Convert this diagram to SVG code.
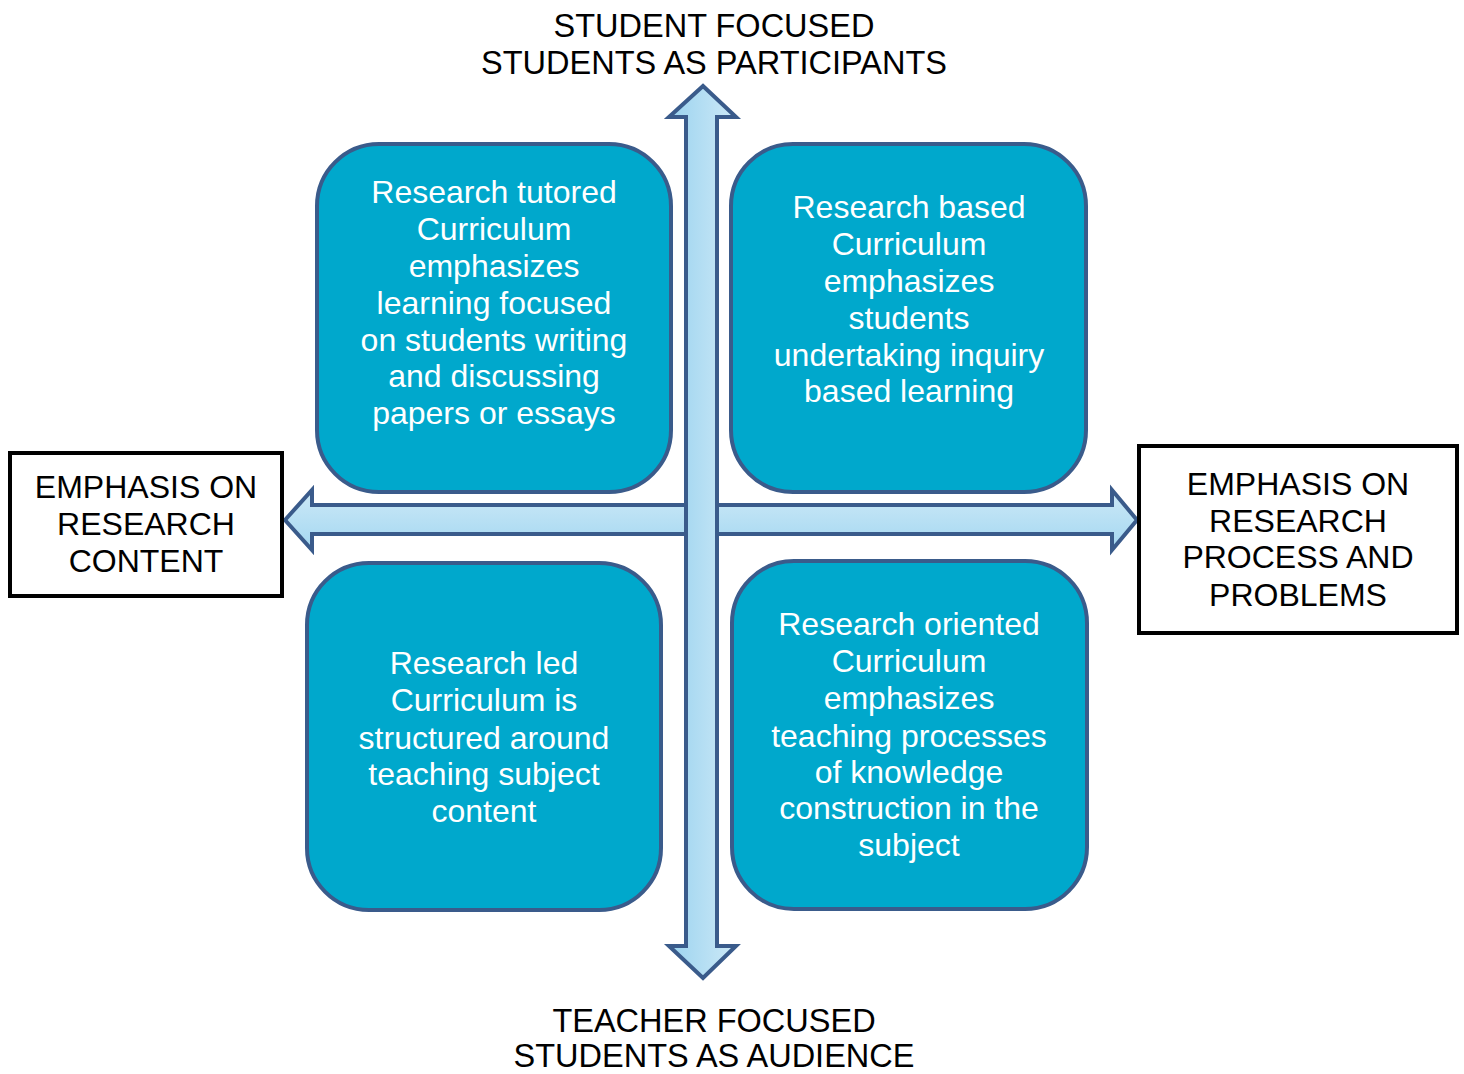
<svg xmlns="http://www.w3.org/2000/svg" width="1464" height="1074" viewBox="0 0 1464 1074">
<defs>
<style>
text{font-family:"Liberation Sans",Arial,sans-serif;font-size:32px;text-anchor:middle}
.axis{font-size:32.5px}
.dark{fill:#000}
.light{fill:#fff}
.quad{fill:#00a8cc;stroke:#3a5b8b;stroke-width:4}
.label{fill:#fff;stroke:#000;stroke-width:4}
.arrow{stroke:#3a5b8b;stroke-width:4;stroke-linejoin:miter}
</style>
<linearGradient id="gv" x1="0" y1="0" x2="1" y2="0">
<stop offset="0" stop-color="#9bd3ef"/><stop offset="1" stop-color="#cde9f7"/>
</linearGradient>
<linearGradient id="gh" x1="0" y1="0" x2="0" y2="1">
<stop offset="0" stop-color="#cde9f7"/><stop offset="1" stop-color="#a3d7f1"/>
</linearGradient>
</defs>
<g id="connectors">
<path id="h-arrow" class="arrow" fill="url(#gh)" d="M285,520 L312,490 L312,505 L1112,505 L1112,490 L1137,520 L1112,550 L1112,534 L312,534 L312,550 Z"/>
<path id="v-arrow" class="arrow" fill="url(#gv)" d="M703,86 L736,117 L717,117 L717,946 L736,946 L703,978 L669,946 L686,946 L686,117 L669,117 Z"/>
</g>
<g id="node-top">
<text class="dark axis" x="714" y="37">STUDENT FOCUSED</text>
<text class="dark axis" x="714" y="74">STUDENTS AS PARTICIPANTS</text>
</g>
<g id="node-bottom">
<text class="dark axis" x="714" y="1032">TEACHER FOCUSED</text>
<text class="dark axis" x="714" y="1067">STUDENTS AS AUDIENCE</text>
</g>
<g id="node-left">
<rect class="label" x="10" y="453" width="272" height="143"/>
<text class="dark" x="146" y="498">EMPHASIS ON</text>
<text class="dark" x="146" y="535">RESEARCH</text>
<text class="dark" x="146" y="572">CONTENT</text>
</g>
<g id="node-right">
<rect class="label" x="1139" y="446" width="318" height="187"/>
<text class="dark" x="1298" y="495">EMPHASIS ON</text>
<text class="dark" x="1298" y="532">RESEARCH</text>
<text class="dark" x="1298" y="568">PROCESS AND</text>
<text class="dark" x="1298" y="606">PROBLEMS</text>
</g>
<g id="node-tl">
<rect class="quad" x="317" y="144" width="354" height="348" rx="62"/>
<text class="light" x="494" y="203">Research tutored</text>
<text class="light" x="494" y="240">Curriculum</text>
<text class="light" x="494" y="277">emphasizes</text>
<text class="light" x="494" y="314">learning focused</text>
<text class="light" x="494" y="351">on students writing</text>
<text class="light" x="494" y="387">and discussing</text>
<text class="light" x="494" y="424">papers or essays</text>
</g>
<g id="node-tr">
<rect class="quad" x="731" y="144" width="355" height="348" rx="62"/>
<text class="light" x="909" y="218">Research based</text>
<text class="light" x="909" y="255">Curriculum</text>
<text class="light" x="909" y="292">emphasizes</text>
<text class="light" x="909" y="329">students</text>
<text class="light" x="909" y="366">undertaking inquiry</text>
<text class="light" x="909" y="402">based learning</text>
</g>
<g id="node-bl">
<rect class="quad" x="307" y="563" width="354" height="347" rx="62"/>
<text class="light" x="484" y="674">Research led</text>
<text class="light" x="484" y="711">Curriculum is</text>
<text class="light" x="484" y="749">structured around</text>
<text class="light" x="484" y="785">teaching subject</text>
<text class="light" x="484" y="822">content</text>
</g>
<g id="node-br">
<rect class="quad" x="732" y="561" width="355" height="348" rx="62"/>
<text class="light" x="909" y="635">Research oriented</text>
<text class="light" x="909" y="672">Curriculum</text>
<text class="light" x="909" y="709">emphasizes</text>
<text class="light" x="909" y="747">teaching processes</text>
<text class="light" x="909" y="783">of knowledge</text>
<text class="light" x="909" y="819">construction in the</text>
<text class="light" x="909" y="856">subject</text>
</g>
</svg>
